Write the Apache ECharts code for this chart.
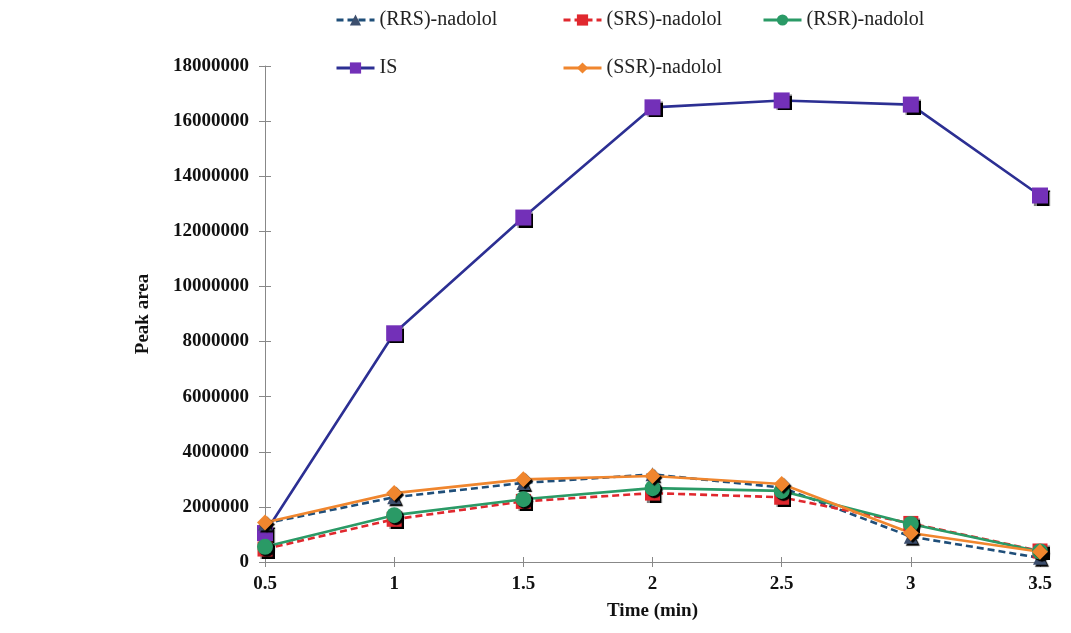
<!DOCTYPE html>
<html>
<head>
<meta charset="utf-8">
<script src="https://cdn.jsdelivr.net/npm/echarts@6/dist/echarts.min.js"></script>
<style>
  html, body { margin: 0; padding: 0; background: #fff; }
  #chart { width: 1071px; height: 633px; }
</style>
</head>
<body>
<div id="chart"></div>
<script>
const times = ['0.5', '1', '1.5', '2', '2.5', '3', '3.5']
const rrs = [1400000, 2350000, 2870000, 3180000, 2700000, 920000, 150000]
const srs = [470000, 1550000, 2200000, 2500000, 2350000, 1400000, 400000]
const rsr = [550000, 1700000, 2280000, 2680000, 2580000, 1380000, 380000]
const is = [1050000, 8300000, 12500000, 16500000, 16750000, 16600000, 13300000]
const ssr = [1430000, 2500000, 3000000, 3120000, 2830000, 1050000, 370000]

const font = 'Liberation Serif'
const markShadow = { shadowColor: '#000', shadowBlur: 1, shadowOffsetX: 2, shadowOffsetY: 2 }

function makeSeries(name, data, color, lineColor, symbol, size, dashed) {
  return {
    name,
    type: 'line',
    data,
    symbol,
    symbolSize: size,
    lineStyle: { color: lineColor, width: 2.6, type: dashed ? [7, 4] : 'solid' },
    itemStyle: Object.assign({ color: color }, markShadow),
    emphasis: { disabled: true },
  }
}

function legendAt(name, left, top) {
  return {
    data: [name],
    left,
    top,
    itemWidth: 38,
    itemHeight: 14,
    itemGap: 4,
    textStyle: { fontFamily: font, fontSize: 20, color: '#222' },
    itemStyle: { shadowBlur: 0, shadowOffsetX: 0, shadowOffsetY: 0 },
    lineStyle: { width: 3 },
  }
}

const chart = echarts.init(document.getElementById('chart'))
chart.setOption({
  backgroundColor: '#fff',
  animation: false,
  legend: [
    legendAt('(RRS)-nadolol', 330, 5),
    legendAt('(SRS)-nadolol', 557, 5),
    legendAt('(RSR)-nadolol', 757, 5),
    legendAt('IS', 330, 53),
    legendAt('(SSR)-nadolol', 557, 53),
  ],
  grid: { left: 265, right: 31, top: 66, bottom: 71 },
  xAxis: [
    {
      type: 'category',
      data: times,
      boundaryGap: false,
      name: 'Time (min)',
      nameLocation: 'middle',
      nameGap: 40,
      nameTextStyle: { fontFamily: font, fontSize: 19, fontWeight: 'bold', color: '#111' },
      axisLine: { lineStyle: { color: '#888', width: 1 } },
      axisTick: { alignWithLabel: true, length: 5, lineStyle: { color: '#888' } },
      axisLabel: { fontFamily: font, fontSize: 19, fontWeight: 'bold', color: '#111', margin: 13 },
    },
    {
      type: 'category',
      data: times,
      boundaryGap: false,
      position: 'bottom',
      axisLine: { show: false },
      axisTick: { inside: true, length: 5, lineStyle: { color: '#888' } },
      axisLabel: { show: false },
    },
  ],
  yAxis: [
    {
      type: 'value',
      min: 0,
      max: 18000000,
      interval: 2000000,
      name: 'Peak area',
      nameLocation: 'middle',
      nameGap: 112,
      nameTextStyle: { fontFamily: font, fontSize: 19, fontWeight: 'bold', color: '#111' },
      axisLine: { show: true, lineStyle: { color: '#888', width: 1 } },
      axisTick: { show: true, length: 6, lineStyle: { color: '#888' } },
      axisLabel: { fontFamily: font, fontSize: 19, fontWeight: 'bold', color: '#111', margin: 16, formatter: v => String(v) },
      splitLine: { show: false },
    },
    {
      type: 'value',
      min: 0,
      max: 18000000,
      interval: 2000000,
      position: 'left',
      axisLine: { show: false },
      axisTick: { show: true, inside: true, length: 6, lineStyle: { color: '#888' } },
      axisLabel: { show: false },
      splitLine: { show: false },
    },
  ],
  series: [
    makeSeries('IS', is, '#7330b8', '#2c2f93', 'rect', 16, false),
    makeSeries('(RRS)-nadolol', rrs, '#3d4f6e', '#1f4e79', 'triangle', 14, true),
    makeSeries('(SRS)-nadolol', srs, '#e0282e', '#e0282e', 'rect', 15, true),
    makeSeries('(RSR)-nadolol', rsr, '#2a9a66', '#2a9a66', 'circle', 16, false),
    makeSeries('(SSR)-nadolol', ssr, '#f0862e', '#f0862e', 'diamond', 16, false),
  ],
})
</script>
</body>
</html>
